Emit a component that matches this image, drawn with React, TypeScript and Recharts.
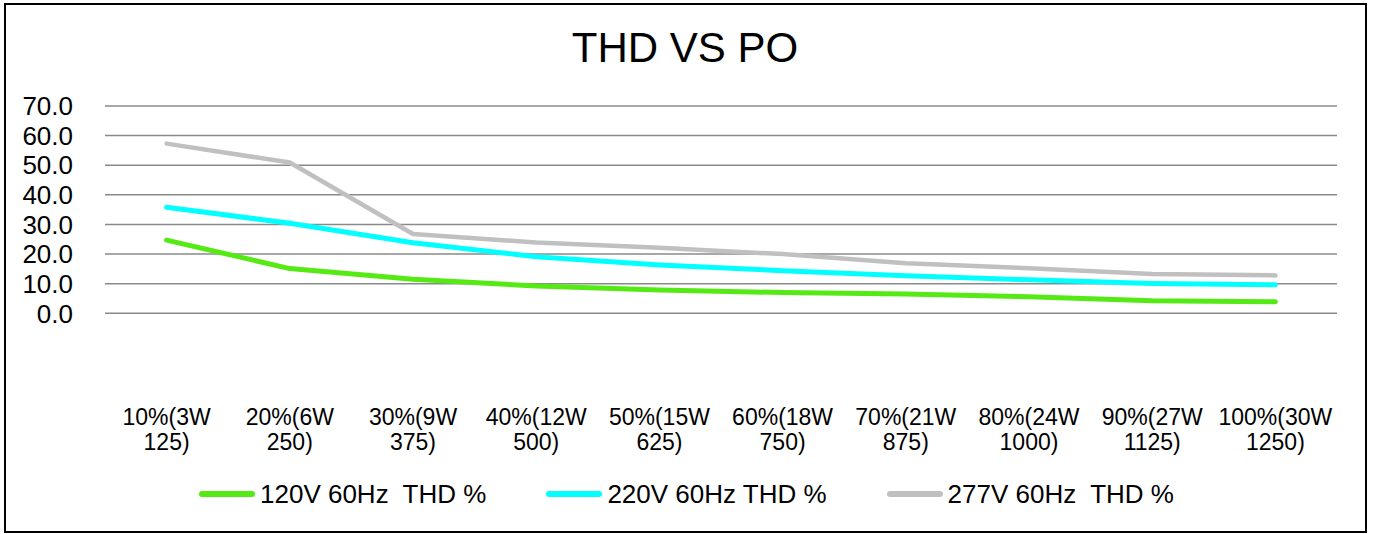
import { CartesianGrid, Legend, Line, LineChart, XAxis, YAxis } from "recharts";

const FONT = '"Liberation Sans", Arial, sans-serif';

const loadLabels = [
  "10%(3W\n125)",
  "20%(6W\n250)",
  "30%(9W\n375)",
  "40%(12W\n500)",
  "50%(15W\n625)",
  "60%(18W\n750)",
  "70%(21W\n875)",
  "80%(24W\n1000)",
  "90%(27W\n1125)",
  "100%(30W\n1250)",
];

const thd120 = [24.7, 15.1, 11.5, 9.2, 7.9, 7.0, 6.5, 5.6, 4.2, 3.9];
const thd220 = [35.8, 30.4, 23.8, 19.1, 16.3, 14.4, 12.7, 11.3, 10.1, 9.6];
const thd277 = [57.3, 50.9, 26.8, 23.9, 22.1, 20.0, 16.9, 15.2, 13.3, 12.8];

const yTicks = [0, 10, 20, 30, 40, 50, 60, 70];

const series = [
  { key: "v120", name: "120V 60Hz  THD %", color: "#55EA14", width: 5 },
  { key: "v220", name: "220V 60Hz THD %", color: "#00FFFF", width: 5 },
  { key: "v277", name: "277V 60Hz  THD %", color: "#C0C0C0", width: 4.5 },
];

const data = loadLabels.map((label, i) => ({
  label,
  v120: thd120[i],
  v220: thd220[i],
  v277: thd277[i],
}));

function LoadTick({ x, y, payload }: { x?: number; y?: number; payload?: { value: string } }) {
  const lines = String(payload?.value ?? "").split("\n");
  return (
    <text
      x={x}
      y={(y ?? 0) + 110}
      textAnchor="middle"
      fill="#000"
      fontSize={23}
      fontFamily={FONT}
    >
      {lines.map((line, i) => (
        <tspan key={i} x={x} dy={i === 0 ? 0 : 25}>
          {line}
        </tspan>
      ))}
    </text>
  );
}

function LegendContent() {
  return (
    <div
      style={{
        display: "flex",
        justifyContent: "center",
        alignItems: "center",
        gap: 60,
        height: 30,
        fontFamily: FONT,
        fontSize: 26,
        lineHeight: "30px",
        color: "#000",
      }}
    >
      {series.map((s) => (
        <span key={s.key} style={{ display: "flex", alignItems: "center", gap: 5 }}>
          <span
            style={{
              display: "inline-block",
              width: 56,
              height: 6,
              borderRadius: 3,
              background: s.color,
            }}
          />
          <span style={{ whiteSpace: "pre" }}>{s.name}</span>
        </span>
      ))}
    </div>
  );
}

export default function App() {
  return (
    <div style={{ position: "relative", width: 1373, height: 534, background: "#fff" }}>
      <style>{`body{margin:0;}`}</style>
      <div
        style={{
          position: "absolute",
          left: 4,
          top: 3,
          width: 1363,
          height: 530,
          border: "2px solid #000",
          boxSizing: "border-box",
        }}
      />
      <div
        style={{
          position: "absolute",
          top: 27,
          left: 0,
          width: 1370,
          textAlign: "center",
          fontFamily: FONT,
          fontSize: 42,
          lineHeight: "42px",
          color: "#000",
        }}
      >
        THD VS PO
      </div>
      <div style={{ position: "absolute", left: 0, top: 0 }}>
        <LineChart
          width={1373}
          height={534}
          data={data}
          margin={{ top: 106, right: 36, bottom: 70.7, left: 0 }}
        >
          <CartesianGrid stroke="#8a8a8a" strokeWidth={1.5} vertical={false} />
          <XAxis
            dataKey="label"
            interval={0}
            axisLine={false}
            tickLine={false}
            tickSize={0}
            height={150}
            padding={{ left: 61.6, right: 61.6 }}
            tick={<LoadTick />}
          />
          <YAxis
            domain={[0, 70]}
            ticks={yTicks}
            interval={0}
            width={105}
            axisLine={false}
            tickLine={false}
            tickSize={0}
            tickMargin={32}
            tickFormatter={(v: number) => v.toFixed(1)}
            tick={{ fill: "#000", fontSize: 26, fontFamily: FONT }}
          />
          <Legend
            verticalAlign="middle"
            align="center"
            layout="horizontal"
            content={<LegendContent />}
            wrapperStyle={{ top: 478.5, left: 0, width: 1373 }}
          />
          {series.map((s) => (
            <Line
              key={s.key}
              type="linear"
              dataKey={s.key}
              name={s.name}
              stroke={s.color}
              strokeWidth={s.width}
              strokeLinecap="round"
              strokeLinejoin="round"
              dot={false}
              activeDot={false}
              isAnimationActive={false}
            />
          ))}
        </LineChart>
      </div>
    </div>
  );
}
